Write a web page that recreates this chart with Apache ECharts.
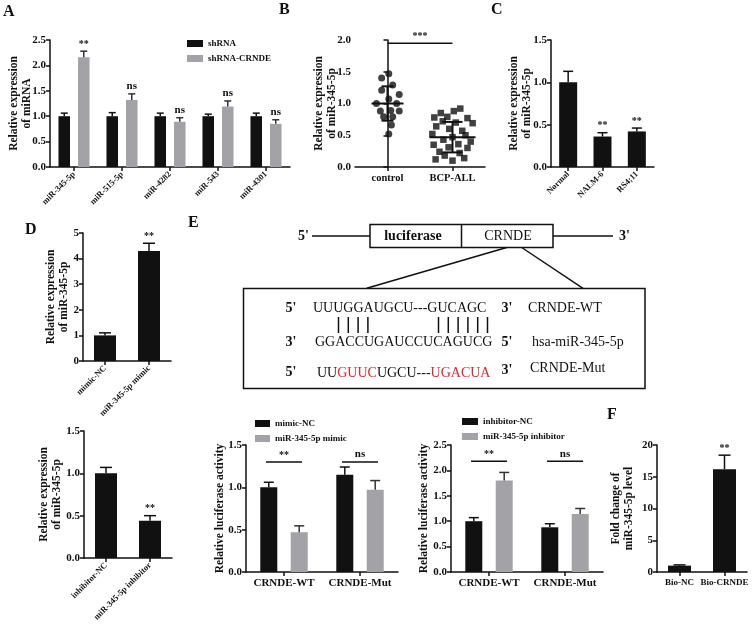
<!DOCTYPE html>
<html>
<head>
<meta charset="utf-8">
<script src="https://cdn.jsdelivr.net/npm/echarts@6/dist/echarts.min.js"></script>
<style>
  html, body { margin: 0; background: #fff; }
  #chart { width: 753px; height: 630px; }
</style>
</head>
<body>
<div id="chart"></div>
<script>
// ---------- data ----------
const aCategories = ["miR-345-5p", "miR-515-5p", "miR-4282", "miR-543", "miR-4301"];
const aShRNA = [1.0, 1.0, 1.0, 1.0, 1.0];
const aShRNAErr = [0.06, 0.07, 0.06, 0.04, 0.06];
const aShCRNDE = [2.16, 1.32, 0.89, 1.19, 0.85];
const aShCRNDEErr = [0.12, 0.12, 0.08, 0.11, 0.08];
const aMarks = ["**", "ns", "ns", "ns", "ns"];

const bCategories = ["control", "BCP-ALL"];
// jitter (fraction of a category band) and value of each dot
const bControlJitter = [0.02, -0.09, 0.08, -0.09, 0.18, 0.02, -0.17, 0.14, -0.11, 0.05, 0.18, -0.06, 0.08, 0.06, 0.02];
const bControlValues = [1.47, 1.40, 1.29, 1.21, 1.14, 1.07, 1.00, 1.00, 0.88, 0.89, 0.88, 0.79, 0.79, 0.66, 0.52];
const bAllJitter = [0.12, 0.02, -0.18, -0.28, -0.08, 0.23, -0.15, 0.05, 0.31, -0.25, -0.05, 0.15, -0.31, 0.2, 0, -0.14, 0.28, -0.29, 0.09, -0.06, 0.23, -0.2, 0.11, -0.12, 0.18, 0, -0.26];
const bAllValues = [0.92, 0.88, 0.85, 0.78, 0.79, 0.77, 0.72, 0.70, 0.69, 0.64, 0.60, 0.57, 0.52, 0.50, 0.47, 0.43, 0.40, 0.35, 0.36, 0.31, 0.30, 0.24, 0.22, 0.18, 0.14, 0.10, 0.12];
const bMean = [1.0, 0.47];
const bSD = [0.27, 0.24];
const bSig = 1.95;

const cCategories = ["Normal", "NALM-6", "RS4;11"];
const cValues = [1.0, 0.36, 0.42];
const cErr = [0.13, 0.045, 0.04];
const cMarks = ["", "**", "**"];

const dMimicCategories = ["mimic-NC", "miR-345-5p mimic"];
const dMimicValues = [1.0, 4.3];
const dMimicErr = [0.1, 0.3];
const dMimicMarks = ["", "**"];

const dInhCategories = ["inhibitor-NC", "miR-345-5p inhibitor"];
const dInhValues = [1.0, 0.44];
const dInhErr = [0.07, 0.06];
const dInhMarks = ["", "**"];

const eCategories = ["CRNDE-WT", "CRNDE-Mut"];
const eMimicNC = [1.0, 1.15];
const eMimicNCErr = [0.06, 0.09];
const eMimic = [0.47, 0.97];
const eMimicErr = [0.075, 0.11];
const eMimicSig = [1.3, 1.3];
const eMimicMarks = ["**", "ns"];

const eInhNC = [1.0, 0.88];
const eInhNCErr = [0.07, 0.07];
const eInh = [1.8, 1.14];
const eInhErr = [0.16, 0.11];
const eInhSig = [2.18, 2.18];
const eInhMarks = ["**", "ns"];

const fCategories = ["Bio-NC", "Bio-CRNDE"];
const fValues = [1.0, 16.2];
const fErr = [0.12, 2.2];
const fMarks = ["", "**"];

// ---------- style helpers ----------
const FONT = "Liberation Serif";
const INK = "#111";
const GRAY = "#a3a3a7";

function grid(left, top, width, height) {
  return { left, top, width, height, containLabel: false, outerBoundsMode: "none" };
}

function yVal(gridIndex, max, interval, decimals, name, nameGap) {
  return {
    type: "value", gridIndex, min: 0, max, interval,
    name, nameLocation: "middle", nameRotate: 90, nameGap, nameMoveOverlap: false,
    nameTextStyle: { fontFamily: FONT, fontWeight: "bold", fontSize: 11.5, color: INK, lineHeight: 13 },
    axisLine: { show: true, lineStyle: { color: INK, width: 1.5 } },
    axisTick: { show: true, length: 4, lineStyle: { color: INK, width: 1.5 } },
    splitLine: { show: false },
    axisLabel: {
      fontFamily: FONT, fontWeight: "bold", fontSize: 11, color: INK, margin: 4,
      formatter: (v) => v.toFixed(decimals),
    },
  };
}

function xCat(gridIndex, data, label) {
  return {
    type: "category", gridIndex, data,
    axisLine: { lineStyle: { color: INK, width: 1.5 } },
    axisTick: { show: true, alignWithLabel: true, length: 4, lineStyle: { color: INK, width: 1.5 } },
    axisLabel: Object.assign({ fontFamily: FONT, fontWeight: "bold", color: INK, interval: 0 }, label),
  };
}

function bar(name, axis, data, color, width, gap) {
  return {
    name, type: "bar", xAxisIndex: axis, yAxisIndex: axis, data,
    barWidth: width, barGap: gap,
    itemStyle: { color },
  };
}

// one-sided error bars with optional significance mark
function errBars(axis, vals, errs, offset, capHalf, marks, color) {
  return {
    type: "custom", xAxisIndex: axis, yAxisIndex: axis, z: 5,
    data: vals.map((v, i) => [i, v, errs[i]]),
    renderItem(params, api) {
      const i = api.value(0);
      const v = api.value(1);
      const e = api.value(2);
      const b = api.coord([i, v]);
      const t = api.coord([i, v + e]);
      const x = b[0] + offset;
      const stroke = color || INK;
      const children = [
        { type: "line", shape: { x1: x, y1: b[1], x2: x, y2: t[1] }, style: { stroke, lineWidth: 1.5 } },
        { type: "line", shape: { x1: x - capHalf, y1: t[1], x2: x + capHalf, y2: t[1] }, style: { stroke, lineWidth: 1.5 } },
      ];
      const m = marks && marks[params.dataIndex];
      if (m) {
        children.push({
          type: "text", x, y: t[1] - 2,
          style: { text: m, fill: INK, font: `bold ${m === "ns" ? 11 : 10}px ${FONT}`, textAlign: "center", textVerticalAlign: "bottom" },
        });
      }
      return { type: "group", children };
    },
  };
}

// horizontal significance line across one group
function sigLines(axis, ys, half, marks) {
  return {
    type: "custom", xAxisIndex: axis, yAxisIndex: axis, z: 5,
    data: ys.map((y, i) => [i, y]),
    renderItem(params, api) {
      const p = api.coord([api.value(0), api.value(1)]);
      const m = marks[params.dataIndex];
      return {
        type: "group",
        children: [
          { type: "line", shape: { x1: p[0] - half, y1: p[1], x2: p[0] + half, y2: p[1] }, style: { stroke: INK, lineWidth: 1.5 } },
          { type: "text", x: p[0], y: p[1] - 2, style: { text: m, fill: INK, font: `bold ${m === "ns" ? 11 : 10}px ${FONT}`, textAlign: "center", textVerticalAlign: "bottom" } },
        ],
      };
    },
  };
}

function legend(names, left, top, width) {
  return {
    data: names, left, top, orient: "vertical", icon: "rect", padding: 0,
    itemWidth: width, itemHeight: 7, itemGap: 4,
    textStyle: { fontFamily: FONT, fontWeight: "bold", fontSize: 9, color: INK, lineHeight: 11 },
  };
}

function letter(text, x, y) {
  return { type: "text", x, y, style: { text, font: `bold 16px ${FONT}`, fill: INK, textVerticalAlign: "top" } };
}

function gText(text, x, y, opts) {
  return {
    type: "text", x, y,
    style: Object.assign({ text, font: `14px ${FONT}`, fill: INK, textVerticalAlign: "middle" }, opts),
  };
}

function gLine(x1, y1, x2, y2) {
  return { type: "line", shape: { x1, y1, x2, y2 }, style: { stroke: INK, lineWidth: 1.5 } };
}

// ---------- schematic for panel E ----------
const pipeLeft = [338.5, 348.3, 358.1, 367.9];
const pipeRight = [438.5, 448.3, 458.1, 467.9, 477.7, 487.5];
const schematic = [
  gText("5'", 298, 236, { font: `bold 14px ${FONT}` }),
  gLine(312, 236, 370, 236),
  { type: "rect", shape: { x: 370, y: 224.5, width: 183, height: 23 }, style: { fill: "none", stroke: INK, lineWidth: 1.5 } },
  gLine(461.5, 224.5, 461.5, 247.5),
  gText("luciferase", 413, 236, { font: `bold 14px ${FONT}`, textAlign: "center" }),
  gText("CRNDE", 508, 236, { textAlign: "center" }),
  gLine(553, 236, 613, 236),
  gText("3'", 619, 236, { font: `bold 14px ${FONT}` }),
  gLine(506.7, 247.5, 366.7, 288.3),
  gLine(521.7, 247.5, 583, 288.3),
  { type: "rect", shape: { x: 243.5, y: 288.5, width: 401.5, height: 100 }, style: { fill: "none", stroke: INK, lineWidth: 1.5 } },
  gText("5'", 291, 308, { font: `bold 14px ${FONT}`, textAlign: "center" }),
  gText("UUUGGAUGCU---GUCAGC", 313, 308),
  gText("3'", 507, 308, { font: `bold 14px ${FONT}`, textAlign: "center" }),
  gText("CRNDE-WT", 528, 308),
  ...pipeLeft.concat(pipeRight).map((x) => gLine(x, 317, x, 333)),
  gText("3'", 291, 342, { font: `bold 14px ${FONT}`, textAlign: "center" }),
  gText("GGACCUGAUCCUCAGUCG", 315, 342),
  gText("5'", 507, 342, { font: `bold 14px ${FONT}`, textAlign: "center" }),
  gText("hsa-miR-345-5p", 532, 342),
  gText("5'", 291, 372, { font: `bold 14px ${FONT}`, textAlign: "center" }),
  gText("UU{r|GUUC}UGCU---{r|UGACUA}", 317, 373, { rich: { r: { fill: "#e3262b", font: `14px ${FONT}` } } }),
  gText("3'", 507, 370, { font: `bold 14px ${FONT}`, textAlign: "center" }),
  gText("CRNDE-Mut", 530, 368),
];

// ---------- chart ----------
const chart = echarts.init(document.getElementById("chart"), null, { renderer: "canvas" });

const rot = (size) => ({ rotate: 45, fontSize: size, margin: 6 });

const option = {
  animation: false,
  backgroundColor: "#fff",
  grid: [
    grid(50, 40, 240, 127),   // A
    grid(355, 40, 130, 127),  // B
    grid(551, 40, 103, 127),  // C
    grid(83, 233, 88, 128),   // D mimic
    grid(84, 431, 88, 127),   // D inhibitor
    grid(246, 445, 152, 127), // E mimic
    grid(451, 445, 152, 127), // E inhibitor
    grid(657, 445, 90, 127),  // F
  ],
  xAxis: [
    xCat(0, aCategories, rot(8.5)),
    xCat(1, bCategories, { fontSize: 10.5, margin: 6 }),
    xCat(2, cCategories, rot(8.5)),
    xCat(3, dMimicCategories, rot(8.5)),
    xCat(4, dInhCategories, rot(8.5)),
    xCat(5, eCategories, { fontSize: 11, margin: 6 }),
    xCat(6, eCategories, { fontSize: 11, margin: 6 }),
    xCat(7, fCategories, { fontSize: 9, margin: 6 }),
    // value axis used to place the jittered dots of B
    { type: "value", gridIndex: 1, min: -0.5, max: 1.5, show: false },
  ],
  yAxis: [
    yVal(0, 2.5, 0.5, 1, "Relative expression\nof miRNA", 16),
    yVal(1, 2.0, 0.5, 1, "Relative expression\nof miR-345-5p", 16),
    yVal(2, 1.5, 0.5, 1, "Relative expression\nof miR-345-5p", 17),
    yVal(3, 5, 1, 0, "Relative expression\nof miR-345-5p", 12),
    yVal(4, 1.5, 0.5, 1, "Relative expression\nof miR-345-5p", 20),
    yVal(5, 1.5, 0.5, 1, "Relative luciferase activity", 19),
    yVal(6, 2.5, 0.5, 1, "Relative luciferase activity", 20),
    yVal(7, 20, 5, 0, "Fold change of\nmiR-345-5p level", 21),
  ],
  legend: [
    legend(["shRNA", "shRNA-CRNDE"], 187, 38, 16),
    legend(["mimic-NC", "miR-345-5p mimic"], 255, 418, 15),
    legend(["inhibitor-NC", "miR-345-5p inhibitor"], 462, 416, 16),
  ],
  series: [
    // A
    bar("shRNA", 0, aShRNA, INK, 11.5, "70%"),
    bar("shRNA-CRNDE", 0, aShCRNDE, GRAY, 11.5, "70%"),
    errBars(0, aShRNA, aShRNAErr, -9.75, 3.5, null),
    errBars(0, aShCRNDE, aShCRNDEErr, 9.75, 3.5, aMarks, "#333"),
    // B
    {
      type: "scatter", xAxisIndex: 8, yAxisIndex: 1, symbol: "circle", symbolSize: 7,
      itemStyle: { color: INK },
      data: bControlValues.map((v, i) => [0 + bControlJitter[i], v]),
    },
    {
      type: "scatter", xAxisIndex: 8, yAxisIndex: 1, symbol: "rect", symbolSize: 6.5,
      itemStyle: { color: INK },
      data: bAllValues.map((v, i) => [1 + bAllJitter[i], v]),
    },
    {
      type: "custom", xAxisIndex: 1, yAxisIndex: 1, z: 5,
      data: bMean.map((m, i) => [i, m, bSD[i]]),
      renderItem(params, api) {
        const i = api.value(0);
        const m = api.value(1);
        const s = api.value(2);
        const c = api.coord([i, m]);
        const hi = api.coord([i, m + s]);
        const lo = api.coord([i, m - s]);
        const half = i === 0 ? 16 : 23;
        const cap = i === 0 ? 6 : 10;
        const st = { stroke: INK, lineWidth: 2 };
        return {
          type: "group",
          children: [
            { type: "line", shape: { x1: c[0] - half, y1: c[1], x2: c[0] + half, y2: c[1] }, style: st },
            { type: "line", shape: { x1: c[0], y1: hi[1], x2: c[0], y2: lo[1] }, style: st },
            { type: "line", shape: { x1: c[0] - cap, y1: hi[1], x2: c[0] + cap, y2: hi[1] }, style: st },
            { type: "line", shape: { x1: c[0] - cap, y1: lo[1], x2: c[0] + cap, y2: lo[1] }, style: st },
          ],
        };
      },
    },
    {
      type: "custom", xAxisIndex: 1, yAxisIndex: 1, z: 5,
      data: [[0, bSig]],
      renderItem(params, api) {
        const p0 = api.coord([0, api.value(1)]);
        const p1 = api.coord([1, api.value(1)]);
        return {
          type: "group",
          children: [
            { type: "line", shape: { x1: p0[0], y1: p0[1], x2: p1[0], y2: p1[1] }, style: { stroke: INK, lineWidth: 1.5 } },
            { type: "text", x: (p0[0] + p1[0]) / 2, y: p0[1] - 2, style: { text: "***", fill: INK, font: `bold 10px ${FONT}`, textAlign: "center", textVerticalAlign: "bottom" } },
          ],
        };
      },
    },
    // C
    bar("C", 2, cValues, INK, 18, "0%"),
    errBars(2, cValues, cErr, 0, 5, cMarks),
    // D
    bar("D mimic", 3, dMimicValues, INK, 22, "0%"),
    errBars(3, dMimicValues, dMimicErr, 0, 6, dMimicMarks),
    bar("D inhibitor", 4, dInhValues, INK, 22, "0%"),
    errBars(4, dInhValues, dInhErr, 0, 6, dInhMarks),
    // E mimic
    bar("mimic-NC", 5, eMimicNC, INK, 17, "79%"),
    bar("miR-345-5p mimic", 5, eMimic, GRAY, 17, "79%"),
    errBars(5, eMimicNC, eMimicNCErr, -15.2, 5, null),
    errBars(5, eMimic, eMimicErr, 15.2, 5, null, "#333"),
    sigLines(5, eMimicSig, 18, eMimicMarks),
    // E inhibitor
    bar("inhibitor-NC", 6, eInhNC, INK, 17, "79%"),
    bar("miR-345-5p inhibitor", 6, eInh, GRAY, 17, "79%"),
    errBars(6, eInhNC, eInhNCErr, -15.2, 5, null),
    errBars(6, eInh, eInhErr, 15.2, 5, null, "#333"),
    sigLines(6, eInhSig, 18, eInhMarks),
    // F
    bar("F", 7, fValues, INK, 23, "0%"),
    errBars(7, fValues, fErr, 0, 6, fMarks),
  ],
  graphic: [
    letter("A", 3, 4),
    letter("B", 279, 2),
    letter("C", 491, 2),
    letter("D", 25, 222),
    letter("E", 188, 215),
    letter("F", 607, 407),
    ...schematic,
  ],
};

chart.setOption(option);
</script>
</body>
</html>
